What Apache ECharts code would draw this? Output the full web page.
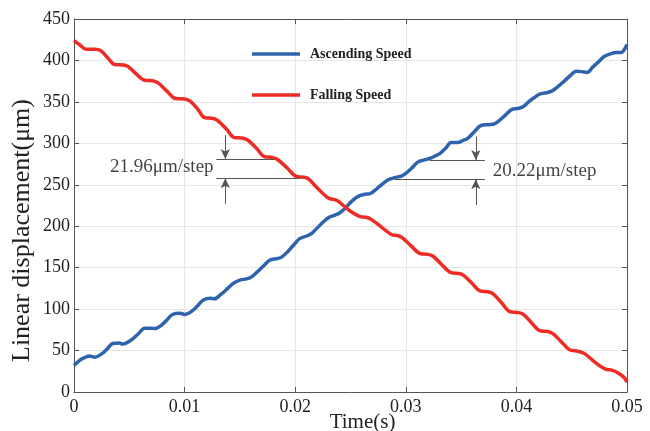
<!DOCTYPE html>
<html>
<head>
<meta charset="utf-8">
<script src="https://cdn.jsdelivr.net/npm/echarts@6/dist/echarts.min.js"></script>
<style>
html,body{margin:0;padding:0;background:#fff;}
#chart{width:650px;height:431px;}
</style>
</head>
<body>
<div id="chart"></div>
<script>
// ---- data ----
const seriesNames = ['Ascending Speed', 'Falling Speed'];
const xTicks = [0, 0.01, 0.02, 0.03, 0.04, 0.05];
const yTicks = [0, 50, 100, 150, 200, 250, 300, 350, 400, 450];

const ascTime = [0,0.0004,0.0008,0.0014,0.0019,0.0025,0.0030,0.0035,0.0041,0.0044,0.0052,0.0058,0.0064,0.0070,0.0073,0.0079,0.0084,0.0089,0.0096,0.0100,0.0108,0.0113,0.0117,0.0123,0.0127,0.0133,0.0139,0.0144,0.0150,0.0156,0.0160,0.0165,0.0172,0.0177,0.0184,0.0188,0.0193,0.0199,0.0204,0.0211,0.0215,0.0220,0.0226,0.0231,0.0236,0.0240,0.0245,0.0251,0.0257,0.0263,0.0268,0.0274,0.0279,0.0284,0.0291,0.0296,0.0301,0.0306,0.0311,0.0317,0.0322,0.0327,0.0331,0.0336,0.0341,0.0347,0.0351,0.0356,0.0362,0.0368,0.0375,0.0380,0.0385,0.0390,0.0396,0.0401,0.0406,0.0411,0.0416,0.0421,0.0427,0.0432,0.0438,0.0444,0.0449,0.0454,0.0459,0.0464,0.0469,0.0474,0.0479,0.0485,0.0491,0.0495,0.0498,0.0500];
const ascValues = [32,37,40.5,43.5,42,46,52,58.5,59,58,63,70,77,77,76.5,80.5,87,93.5,95,93.5,99,106,111,113,112.5,118,125,131,135,136.5,138.5,144,153,159,161,163,169,178,185,188.5,191.5,198,206,211,213.5,216,221.5,230,236,238.5,239.5,245.5,251,256,259,260.5,265,271,277.5,280,282,285,288,294,301,301,303,306,314,321.5,322.5,323.5,328,334,341,342,344,350,355,359.5,361,363,369,376,382,387,386.5,385.5,392,398,404.5,408,409.5,409.5,414,419.5];

const fallTime = [0,0.0005,0.0011,0.0019,0.0024,0.0030,0.0037,0.0045,0.0049,0.0056,0.0064,0.0071,0.0076,0.0084,0.0092,0.0100,0.0105,0.0112,0.0118,0.0126,0.0130,0.0138,0.0145,0.0152,0.0157,0.0165,0.0172,0.0179,0.0184,0.0193,0.0201,0.0208,0.0212,0.0220,0.0230,0.0237,0.0241,0.0249,0.0258,0.0265,0.0269,0.0278,0.0287,0.0293,0.0297,0.0305,0.0313,0.0320,0.0325,0.0333,0.0341,0.0348,0.0352,0.0360,0.0367,0.0374,0.0379,0.0387,0.0394,0.0401,0.0406,0.0414,0.0421,0.0428,0.0433,0.0441,0.0448,0.0456,0.0462,0.0471,0.0480,0.0487,0.0492,0.0497,0.0500];
const fallValues = [424,419,413.5,413.5,412,404,395,394.5,392.5,384,376,375.5,373,363,354,353.5,351,341,331,330,327.5,317,307,306.5,304,294,284,283,280.5,270,260,259,257,246,234,231.5,228,219,212,210.5,208,199,190,188.5,186,176,167,166,163.5,153,144,143,141,131,122,121,118.5,107,97,96,94,83,74,73,70.5,60,51,49,46,36,28,26,23,18,12];

const stepLabels = ['21.96\u03bcm/step', '20.22\u03bcm/step'];

// ---- chart ----
const serif = '"Liberation Serif","Times New Roman",serif';
const chart = echarts.init(document.getElementById('chart'));
const zip = (a, b) => a.map((v, i) => [v, b[i]]);
const annColor = '#555';
const annLabel = { show: true, fontFamily: serif, fontSize: 19, color: '#111' };

const option = {
  animation: false,
  backgroundColor: '#fff',
  grid: { left: 74, right: 23, top: 19, bottom: 39, containLabel: false, outerBoundsMode: 'none' },
  legend: {
    data: seriesNames,
    orient: 'vertical',
    left: 252, top: 47, padding: 0,
    icon: 'rect',
    itemWidth: 48, itemHeight: 3.5, itemGap: 27,
    textStyle: { fontFamily: serif, fontWeight: 'bold', fontSize: 14, lineHeight: 14, color: '#222', padding: [0, 0, 0, 5] }
  },
  xAxis: [{
    type: 'value', min: xTicks[0], max: xTicks[xTicks.length - 1], interval: 0.01,
    name: 'Time(s)', nameLocation: 'middle', nameGap: 20, nameMoveOverlap: false,
    nameTextStyle: { fontFamily: serif, fontSize: 21, color: '#222', padding: [0, 0, 0, 24] },
    axisLine: { show: true, lineStyle: { color: '#555', width: 1 } },
    axisTick: { show: true, inside: true, length: 5, lineStyle: { color: '#555' } },
    axisLabel: { fontFamily: serif, fontSize: 18, color: '#222', margin: 6,
      formatter: v => String(+v.toFixed(2)) },
    splitLine: { show: true, lineStyle: { color: '#e6e6e6', width: 1 } }
  }, {
    type: 'value', position: 'top', min: xTicks[0], max: xTicks[xTicks.length - 1], interval: 0.01,
    axisLine: { show: true, onZero: false, lineStyle: { color: '#555', width: 1 } },
    axisTick: { show: true, inside: true, length: 5, lineStyle: { color: '#555' } },
    axisLabel: { show: false }, splitLine: { show: false }
  }],
  yAxis: [{
    type: 'value', min: yTicks[0], max: yTicks[yTicks.length - 1], interval: 50,
    name: 'Linear displacement(\u03bcm)', nameLocation: 'middle', nameGap: 39, nameMoveOverlap: false,
    nameTextStyle: { fontFamily: serif, fontSize: 26, color: '#222', padding: [0, 50, 0, 0] },
    axisLine: { show: true, lineStyle: { color: '#555', width: 1 } },
    axisTick: { show: true, inside: true, length: 5, lineStyle: { color: '#555' } },
    axisLabel: { fontFamily: serif, fontSize: 18, color: '#222', margin: 4 },
    splitLine: { show: true, lineStyle: { color: '#e6e6e6', width: 1 } }
  }, {
    type: 'value', position: 'right', min: yTicks[0], max: yTicks[yTicks.length - 1], interval: 50,
    axisLine: { show: true, onZero: false, lineStyle: { color: '#555', width: 1 } },
    axisTick: { show: true, inside: true, length: 5, lineStyle: { color: '#555' } },
    axisLabel: { show: false }, splitLine: { show: false }
  }],
  series: [
    {
      name: seriesNames[0], type: 'line', data: zip(ascTime, ascValues),
      showSymbol: false, symbol: 'none', smooth: 0.35,
      lineStyle: { color: '#2f63ad', width: 3.5 }, itemStyle: { color: '#2f63ad' },
      z: 3,
      markLine: {
        silent: true, symbol: 'none', label: { show: false },
        lineStyle: { color: annColor, width: 1, type: 'solid' },
        data: [
          [{ coord: [0.03217, 279.9] }, { coord: [0.03715, 279.9] }],
          [{ coord: [0.0290, 256.6] }, { coord: [0.03715, 256.6] }],
          [{ coord: [0.03633, 308], symbol: 'none' }, { coord: [0.03633, 279.9], symbol: 'arrow', symbolSize: [7, 10] }],
          [{ coord: [0.03633, 225.6], symbol: 'none' }, { coord: [0.03633, 256.6], symbol: 'arrow', symbolSize: [7, 10] }]
        ]
      }
    },
    {
      name: seriesNames[1], type: 'line', data: zip(fallTime, fallValues),
      showSymbol: false, symbol: 'none', smooth: 0.35,
      lineStyle: { color: '#ee2b25', width: 3.5 }, itemStyle: { color: '#ee2b25' },
      z: 4,
      markLine: {
        silent: true, symbol: 'none', label: { show: false },
        lineStyle: { color: annColor, width: 1, type: 'solid' },
        data: [
          [{ coord: [0.01287, 281.1] }, { coord: [0.01814, 281.1] }],
          [{ coord: [0.01287, 257.8] }, { coord: [0.02041, 257.8] }],
          [{ coord: [0.01368, 310], symbol: 'none' }, { coord: [0.01368, 281.1], symbol: 'arrow', symbolSize: [7, 10] }],
          [{ coord: [0.01368, 227], symbol: 'none' }, { coord: [0.01368, 257.8], symbol: 'arrow', symbolSize: [7, 10] }]
        ]
      }
    },
    {
      name: 'annotations', type: 'scatter', symbolSize: 0, silent: true, z: 5,
      itemStyle: { color: '#111' },
      data: [
        { value: [0.01262, 271.4], label: Object.assign({ position: 'left', distance: 0, formatter: stepLabels[0] }, annLabel) },
        { value: [0.03787, 266.6], label: Object.assign({ position: 'right', distance: 0, formatter: stepLabels[1] }, annLabel) }
      ]
    }
  ]
};
chart.setOption(option);
</script>
</body>
</html>
